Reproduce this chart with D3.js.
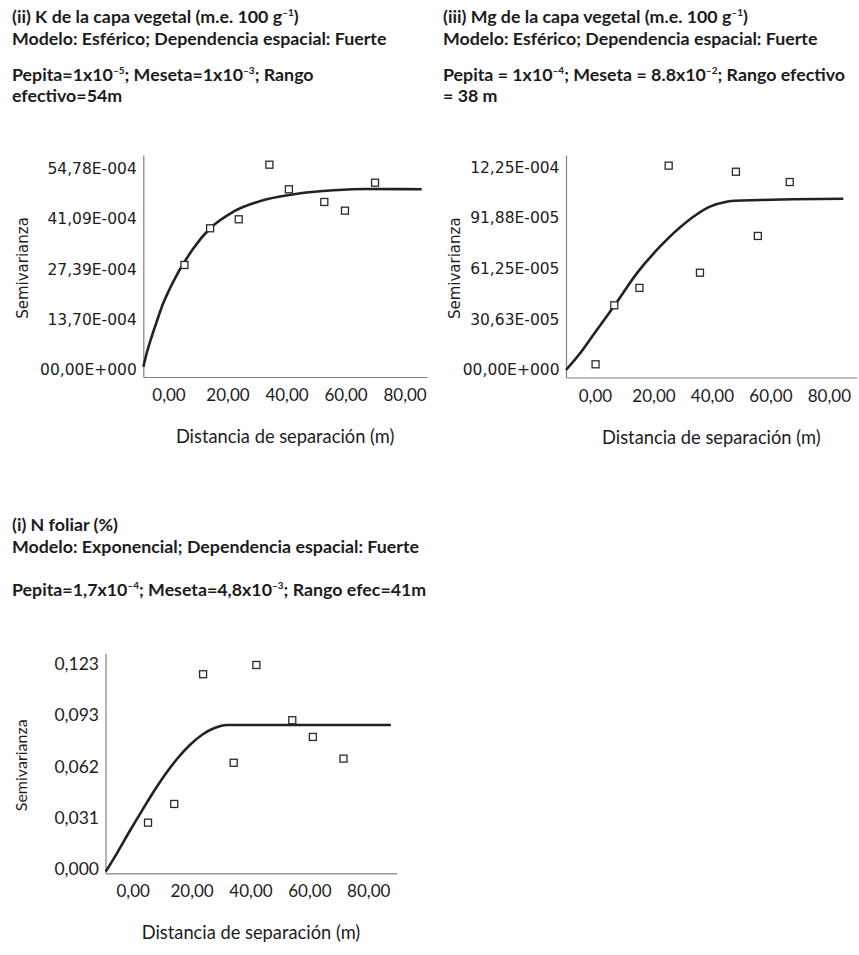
<!DOCTYPE html>
<html>
<head>
<meta charset="utf-8">
<script src="https://cdn.jsdelivr.net/npm/d3@7"></script>
<style>
  body { margin: 0; background: #fff; }
  svg { display: block; }
</style>
</head>
<body>
<div id="chart"></div>
<script>
// Shared x axis
const xTickValues = [0, 20, 40, 60, 80];
const xTickLabels = ["0,00", "20,00", "40,00", "60,00", "80,00"];

// (ii) K
const kTitle = [
  [["(ii) K de la capa vegetal (m.e. 100 g", false], ["-1", true], [")", false]],
  [["Modelo: Esférico; Dependencia espacial: Fuerte", false]],
  [["Pepita=1x10", false], ["-5", true], ["; Meseta=1x10", false], ["-3", true], ["; Rango", false]],
  [["efectivo=54m", false]]
];
const kYTickValues = [0, 0.0013695, 0.002739, 0.0041085, 0.005478];
const kYTickLabels = ["00,00E+000", "13,70E-004", "27,39E-004", "41,09E-004", "54,78E-004"];
const kPoints = [[5.4, 0.002852], [14.1, 0.003849], [23.8, 0.004093], [34.2, 0.005576],
  [40.8, 0.004908], [52.8, 0.004563], [59.8, 0.004327], [70.0, 0.005087]];
const kCurve = [[-8.5, 0.00009], [-7.4, 0.000454], [-5.7, 0.000905], [-4.0, 0.001312],
  [-1.8, 0.001811], [0.5, 0.002219], [2.8, 0.00258], [5.4, 0.002933], [8.4, 0.0033],
  [14.1, 0.003849], [22.0, 0.0043], [33.3, 0.004636], [44.6, 0.004799], [55.9, 0.00488],
  [67.2, 0.004916], [85.8, 0.004908]];

// (iii) Mg
const mgTitle = [
  [["(iii) Mg de la capa vegetal (m.e. 100 g", false], ["-1", true], [")", false]],
  [["Modelo: Esférico; Dependencia espacial: Fuerte", false]],
  [["Pepita = 1x10", false], ["-4", true], ["; Meseta = 8.8x10", false], ["-2", true], ["; Rango efectivo", false]],
  [["= 38 m", false]]
];
const mgYTickValues = [0, 0.00030625, 0.0006125, 0.00091875, 0.001225];
const mgYTickLabels = ["00,00E+000", "30,63E-005", "61,25E-005", "91,88E-005", "12,25E-004"];
const mgPoints = [[0.2, 0.0000344], [6.6, 0.000391], [15.2, 0.000496], [25.2, 0.001235],
  [35.9, 0.000588], [48.2, 0.001198], [55.7, 0.00081], [66.6, 0.001136]];
const mgCurve = [[-9.9, 0], [-5.1, 0.000101], [-0.6, 0.000212], [6.8, 0.000393],
  [14.3, 0.000584], [22.2, 0.000745], [31.4, 0.000896], [39.3, 0.000987], [45.0, 0.001017],
  [47.9, 0.001023], [56.4, 0.001027], [67.8, 0.001032], [84.9, 0.001035]];

// (i) N foliar
const nTitle = [
  [["(i) N foliar (%)", false]],
  [["Modelo: Exponencial; Dependencia espacial: Fuerte", false]],
  [["Pepita=1,7x10", false], ["-4", true], ["; Meseta=4,8x10", false], ["-3", true], ["; Rango efec=41m", false]]
];
const nYTickValues = [0, 0.03085, 0.0617, 0.09255, 0.1234];
const nYTickLabels = ["0,000", "0,031", "0,062", "0,093", "0,123"];
const nPoints = [[5.2, 0.0277], [14.1, 0.039], [23.9, 0.1174], [34.3, 0.0639],
  [42.0, 0.123], [54.2, 0.0896], [61.2, 0.0795], [71.6, 0.0664]];
const nCurve = [[-9.17, -0.0019], [-5.06, 0.0101], [-0.95, 0.0228], [3.16, 0.035],
  [7.27, 0.0468], [11.38, 0.0577], [15.48, 0.0671], [19.59, 0.0749], [23.7, 0.081],
  [27.81, 0.0849], [31.92, 0.0867], [43.8, 0.0867], [87.7, 0.0867]];

const width = 859;
const height = 955;
const ink = "#1c1c1c";

const svg = d3.select("#chart")
  .append("svg")
  .attr("width", width)
  .attr("height", height);

svg.append("rect")
  .attr("width", width)
  .attr("height", height)
  .attr("fill", "#fff");

function drawTitle(lines, x, baselines) {
  lines.forEach((segments, i) => {
    const t = svg.append("text")
      .attr("x", x)
      .attr("y", baselines[i])
      .style("font-family", "Lato")
      .style("font-weight", "700")
      .style("font-size", "17.8px")
      .attr("fill", ink);
    let raised = false;
    segments.forEach(seg => {
      const span = t.append("tspan").text(seg[1] ? seg[0].replace("-", "\u2013") : seg[0]);
      if (seg[1]) {
        span.attr("dy", -7).style("font-size", "10px");
        raised = true;
      } else if (raised) {
        span.attr("dy", 7);
        raised = false;
      }
    });
  });
}

function drawPanel(p) {
  const x = d3.scaleLinear().domain(p.xDomain).range([p.left, p.right]);
  const y = d3.scaleLinear().domain(p.yDomain).range([p.bottom, p.top]);

  // X axis
  const gx = svg.append("g")
    .attr("transform", "translate(0," + p.bottom + ")")
    .call(d3.axisBottom(x)
      .tickValues(xTickValues)
      .tickFormat((d, i) => xTickLabels[i])
      .tickSize(0)
      .tickPadding(12));
  gx.select(".domain").attr("stroke", "#808080").attr("stroke-width", 1.2);
  gx.selectAll("text")
    .style("font-family", "Lato")
    .style("font-size", "17px")
    .attr("fill", ink);

  // Y axis
  const gy = svg.append("g")
    .attr("transform", "translate(" + p.left + ",0)")
    .call(d3.axisLeft(y)
      .tickValues(p.yTicks)
      .tickFormat((d, i) => p.yLabels[i])
      .tickSize(0)
      .tickPadding(6.5));
  gy.select(".domain").attr("stroke", "#808080").attr("stroke-width", 1.2);
  gy.selectAll("text")
    .style("font-family", p.tickFont)
    .style("font-size", p.tickSize + "px")
    .attr("fill", ink);

  // Axis titles
  svg.append("text")
    .attr("x", (p.left + p.right) / 2)
    .attr("y", p.bottom + 66)
    .attr("text-anchor", "middle")
    .style("font-family", "Lato")
    .style("font-size", "18.3px")
    .attr("fill", ink)
    .text("Distancia de separación (m)");

  svg.append("text")
    .attr("transform", "translate(" + p.yTitleX + "," + ((p.top + p.bottom) / 2 + 2) + ")rotate(-90)")
    .attr("text-anchor", "middle")
    .attr("dy", "0.35em")
    .style("font-family", p.yTitleFont)
    .style("font-size", p.yTitleSize + "px")
    .attr("fill", ink)
    .text("Semivarianza");

  // Model curve
  const line = d3.line()
    .x(d => x(d[0]))
    .y(d => y(d[1]))
    .curve(d3.curveMonotoneX);

  svg.append("path")
    .datum(p.curve)
    .attr("d", line)
    .attr("fill", "none")
    .attr("stroke", "#222")
    .attr("stroke-width", 2.6);

  // Experimental semivariogram points
  const size = 7;
  svg.selectAll(null)
    .data(p.points)
    .enter()
    .append("rect")
    .attr("x", d => x(d[0]) - size / 2)
    .attr("y", d => y(d[1]) - size / 2)
    .attr("width", size)
    .attr("height", size)
    .attr("fill", "#fff")
    .attr("stroke", "#2a2a2a")
    .attr("stroke-width", 1.3);
}

drawTitle(kTitle, 12, [23, 45, 81, 102]);
drawTitle(mgTitle, 443, [23, 45, 81, 102]);
drawTitle(nTitle, 12, [531, 553, 596]);

drawPanel({
  left: 143.3, right: 427, top: 155, bottom: 377,
  xDomain: [-8.54, 87.6], yDomain: [-0.00019, 0.005839],
  yTicks: kYTickValues, yLabels: kYTickLabels,
  tickFont: "DejaVu Sans", tickSize: 15.5,
  yTitleX: 22.7, yTitleFont: "DejaVu Sans", yTitleSize: 15,
  points: kPoints, curve: kCurve
});

drawPanel({
  left: 566, right: 856.7, top: 155, bottom: 377.5,
  xDomain: [-9.91, 89.5], yDomain: [-0.0000453, 0.0012992],
  yTicks: mgYTickValues, yLabels: mgYTickLabels,
  tickFont: "DejaVu Sans", tickSize: 15.5,
  yTitleX: 455, yTitleFont: "DejaVu Sans", yTitleSize: 15,
  points: mgPoints, curve: mgCurve
});

drawPanel({
  left: 105.5, right: 396.5, top: 653.3, bottom: 873.3,
  xDomain: [-9.24, 89.6], yDomain: [-0.0029, 0.13005],
  yTicks: nYTickValues, yLabels: nYTickLabels,
  tickFont: "Lato", tickSize: 17.5,
  yTitleX: 21.7, yTitleFont: "Lato", yTitleSize: 16,
  points: nPoints, curve: nCurve
});
</script>
</body>
</html>
